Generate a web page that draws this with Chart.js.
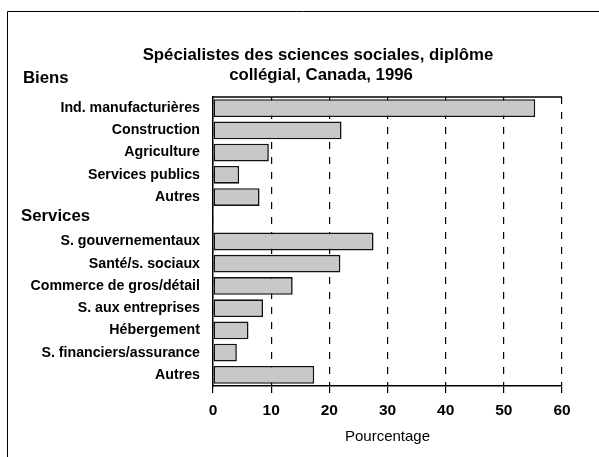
<!DOCTYPE html>
<html>
<head>
<meta charset="utf-8">
<script src="https://cdn.jsdelivr.net/npm/chart.js@4/dist/chart.umd.min.js"></script>
<style>
html, body { margin: 0; padding: 0; background: #fff; }
</style>
</head>
<body>
<canvas id="myChart" width="599" height="457"></canvas>
<script>
// data
const categories = ['Ind. manufacturières', 'Construction', 'Agriculture', 'Services publics', 'Autres', '',
	'S. gouvernementaux', 'Santé/s. sociaux', 'Commerce de gros/détail', 'S. aux entreprises',
	'Hébergement', 'S. financiers/assurance', 'Autres'];
const percentages = [55.4, 22.1, 9.6, 4.5, 8.0, null, 27.6, 21.9, 13.7, 8.6, 6.1, 4.1, 17.4];
const groupLabels = ['Biens', 'Services'];
const groupRows = [0, 5];
const xTicks = [0, 10, 20, 30, 40, 50, 60];
const titleLines = ['Spécialistes des sciences sociales, diplôme', 'collégial, Canada, 1996'];
const xTitle = 'Pourcentage';

const FONT = 'Arial, "Liberation Sans", Helvetica, sans-serif';

const extras = {
	id: 'extras',
	afterDraw(chart) {
		const ctx = chart.ctx;
		const area = chart.chartArea;
		const y = chart.scales.y;
		ctx.save();
		// outer frame (cut at right / bottom)
		ctx.strokeStyle = '#000';
		ctx.lineWidth = 1;
		ctx.beginPath();
		ctx.moveTo(7.5, 457);
		ctx.lineTo(7.5, 11.5);
		ctx.lineTo(599, 11.5);
		ctx.stroke();
		// top edge of plot
		ctx.lineWidth = 1.5;
		ctx.beginPath();
		ctx.moveTo(area.left, area.top);
		ctx.lineTo(area.right, area.top);
		ctx.stroke();
		// title
		ctx.fillStyle = '#000';
		ctx.textAlign = 'center';
		ctx.textBaseline = 'alphabetic';
		ctx.font = 'bold 16.8px ' + FONT;
		ctx.fillText(titleLines[0], 318, 60);
		ctx.fillText(titleLines[1], 321, 80);
		// group headers
		ctx.textAlign = 'left';
		ctx.font = 'bold 16.8px ' + FONT;
		ctx.fillText(groupLabels[0], 23, y.getPixelForValue(groupRows[0]) - 25);
		ctx.fillText(groupLabels[1], 21, y.getPixelForValue(groupRows[1]) + 2);
		ctx.restore();
	}
};

const ctx = document.getElementById('myChart').getContext('2d');
const myChart = new Chart(ctx, {
	type: 'bar',
	data: {
		labels: categories,
		datasets: [{
			data: percentages,
			backgroundColor: '#c8c8c8',
			borderColor: '#111',
			borderWidth: 1.6,
			borderSkipped: false,
			barPercentage: 0.8,
			categoryPercentage: 1
		}]
	},
	options: {
		indexAxis: 'y',
		responsive: false,
		animation: false,
		devicePixelRatio: 1,
		layout: { padding: { left: 0, top: 97, right: 37, bottom: 0 } },
		plugins: {
			legend: { display: false },
			tooltip: { enabled: false },
			title: { display: false }
		},
		scales: {
			x: {
				min: xTicks[0],
				max: xTicks[xTicks.length - 1],
				afterBuildTicks: (scale) => { scale.ticks = xTicks.map(v => ({ value: v })); },
				afterFit: (scale) => { scale.height = 71; },
				grid: {
					color: '#000',
					lineWidth: 1.2,
					tickLength: 7,
					tickColor: '#000',
					tickWidth: 1.2,
					tickBorderDash: []
				},
				border: { display: true, color: '#000', width: 1.5, dash: [7, 8] },
				ticks: {
					color: '#000',
					padding: 8,
					font: { family: FONT, size: 15.5, weight: 'bold' }
				},
				title: {
					display: true,
					text: xTitle,
					color: '#000',
					padding: { top: 0, bottom: 11 },
					font: { family: FONT, size: 15, weight: 'normal' }
				}
			},
			y: {
				afterFit: (scale) => { scale.width = 213; },
				grid: { display: false },
				border: { display: true, color: '#000', width: 1.5 },
				ticks: {
					autoSkip: false,
					color: '#000',
					padding: 5,
					font: { family: FONT, size: 14.2, weight: 'bold' }
				}
			}
		}
	},
	plugins: [extras]
});
</script>
</body>
</html>
